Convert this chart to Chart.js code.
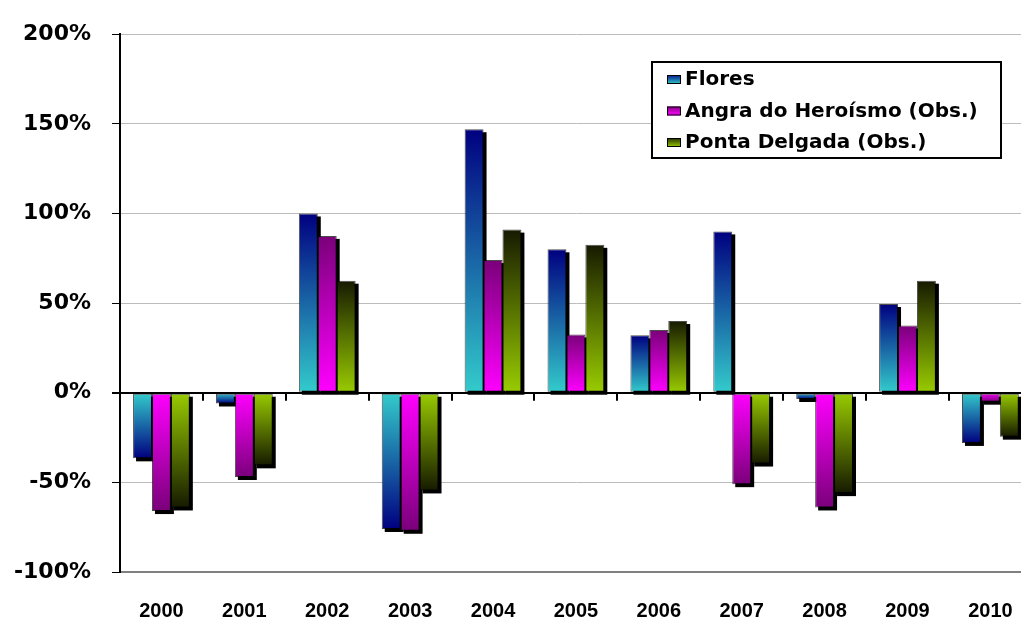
<!DOCTYPE html>
<html>
<head>
<meta charset="utf-8">
<script src="https://cdn.jsdelivr.net/npm/chart.js@4"></script>
<style>
  html, body { margin: 0; padding: 0; background: #fff; overflow: hidden; }
  #wrap { width: 1040px; height: 626px; }
</style>
</head>
<body>
<div id="wrap"><canvas id="rainChart"></canvas></div>
<script>
// --- data (percent) ---
const years = ['2000', '2001', '2002', '2003', '2004', '2005', '2006', '2007', '2008', '2009', '2010'];
const flores = [-36.6, -6, 100, -76, 147, 80, 32, 90, -3.5, 49.5, -28];
const angra = [-66, -47, 87.5, -77, 74, 32.5, 35, -51, -64, 37.5, -5];
const ponta = [-64, -40.5, 62.5, -54.5, 91, 82.5, 40, -39.5, -56, 62.5, -24.5];
const yTicks = [-100, -50, 0, 50, 100, 150, 200];

const seriesNames = ['Flores', 'Angra do Heroísmo (Obs.)', 'Ponta Delgada (Obs.)'];
const baseColors = ['#33cccc', '#ff00ff', '#99cc00'];
const tipColors = ['#000080', '#7a007a', '#161a00'];

// gradient from the zero line (light) to the end of the bar (dark)
function barFill(i) {
    return (c) => {
        const y = c.chart.scales.y;
        if (!y || c.type !== 'data') return baseColors[i];
        const y0 = y.getPixelForValue(0);
        const y1 = y.getPixelForValue(c.raw);
        if (!isFinite(y0) || !isFinite(y1) || Math.abs(y1 - y0) < 1) return baseColors[i];
        const g = c.chart.ctx.createLinearGradient(0, y0, 0, y1);
        g.addColorStop(0, baseColors[i]);
        g.addColorStop(1, tipColors[i]);
        return g;
    };
}

// hard black drop shadow behind every bar, taken from the bar elements
const barShadow = {
    id: 'barShadow',
    beforeDatasetsDraw(chart) {
        const ctx = chart.ctx;
        ctx.save();
        ctx.fillStyle = '#000';
        chart.data.datasets.forEach((ds, i) => {
            chart.getDatasetMeta(i).data.forEach(bar => {
                const { x, y, base, width } = bar.getProps(['x', 'y', 'base', 'width'], true);
                const top = Math.min(y, base);
                ctx.fillRect(x - width / 2 + 3, top + 3, width, Math.abs(base - y));
            });
        });
        ctx.restore();
    },
    afterDatasetsDraw(chart) {
        // small tick marks under the 0% line, between the years
        const { ctx, scales: { x, y } } = chart;
        const y0 = y.getPixelForValue(0);
        ctx.save();
        ctx.strokeStyle = '#000';
        ctx.lineWidth = 2;
        for (let i = 0; i <= years.length; i++) {
            const px = x.getPixelForValue(i - 0.5);
            ctx.beginPath();
            ctx.moveTo(Math.round(px), y0);
            ctx.lineTo(Math.round(px), y0 + 8);
            ctx.stroke();
        }
        ctx.restore();
    }
};

// boxed legend in the top right
const boxLegend = {
    id: 'boxLegend',
    afterDraw(chart) {
        const ctx = chart.ctx;
        const bx = 652, by = 62, bw = 349, bh = 96;
        ctx.save();
        ctx.fillStyle = '#fff';
        ctx.fillRect(bx, by, bw, bh);
        ctx.lineWidth = 2;
        ctx.strokeStyle = '#000';
        ctx.strokeRect(bx, by, bw, bh);
        ctx.font = 'bold 20px "DejaVu Sans"';
        ctx.textBaseline = 'middle';
        chart.data.datasets.forEach((ds, i) => {
            const cy = by + 17 + i * 31.5;
            const g = ctx.createLinearGradient(0, cy + 5, 0, cy - 5);
            g.addColorStop(0, baseColors[i]);
            g.addColorStop(1, tipColors[i]);
            ctx.fillStyle = g;
            ctx.fillRect(667, cy - 4, 13, 9);
            ctx.lineWidth = 1;
            ctx.strokeRect(667.5, cy - 3.5, 13, 8);
            ctx.fillStyle = '#000';
            ctx.fillText(ds.label, 685, cy + 1);
        });
        ctx.restore();
    }
};

const seriesData = [flores, angra, ponta];

document.addEventListener('DOMContentLoaded', () => {
    const ctx = document.getElementById('rainChart');
    new Chart(ctx.getContext('2d'), {
        type: 'bar',
        data: {
            labels: years,
            datasets: seriesData.map((d, i) => ({
                label: seriesNames[i],
                data: d,
                backgroundColor: barFill(i),
                borderColor: 'rgba(0,0,0,0.7)',
                borderWidth: 1,
                borderSkipped: false,
                barPercentage: 1,
                categoryPercentage: 0.685
            }))
        },
        options: {
            responsive: true,
            maintainAspectRatio: false,
            animation: false,
            layout: { padding: { top: 28, right: 8, left: 0, bottom: 0 } },
            plugins: { legend: { display: false }, tooltip: { enabled: false } },
            scales: {
                x: {
                    grid: { display: false, drawTicks: false },
                    border: { display: true, color: '#808080', width: 2 },
                    ticks: {
                        color: '#000',
                        padding: 27,
                        font: { family: '"Liberation Sans", Arial', weight: 'bold', size: 20 }
                    },
                    afterFit: (s) => { s.height = 54; }
                },
                y: {
                    min: yTicks[0],
                    max: yTicks[yTicks.length - 1],
                    afterBuildTicks: (s) => { s.ticks = yTicks.map(v => ({ value: v })); },
                    grid: {
                        color: (c) => c.tick && c.tick.value === 0 ? '#000' : '#bcbcbc',
                        lineWidth: (c) => c.tick && c.tick.value === 0 ? 2 : 1,
                        tickColor: '#000',
                        tickLength: 8
                    },
                    border: { display: true, color: '#000', width: 2 },
                    ticks: {
                        color: '#000',
                        padding: 21,
                        font: { family: '"DejaVu Sans"', weight: 'bold', size: 22 },
                        callback: (v) => v + '%'
                    },
                    afterFit: (s) => { s.width = 120; }
                }
            }
        },
        plugins: [barShadow, boxLegend]
    });
});
</script>
</body>
</html>
